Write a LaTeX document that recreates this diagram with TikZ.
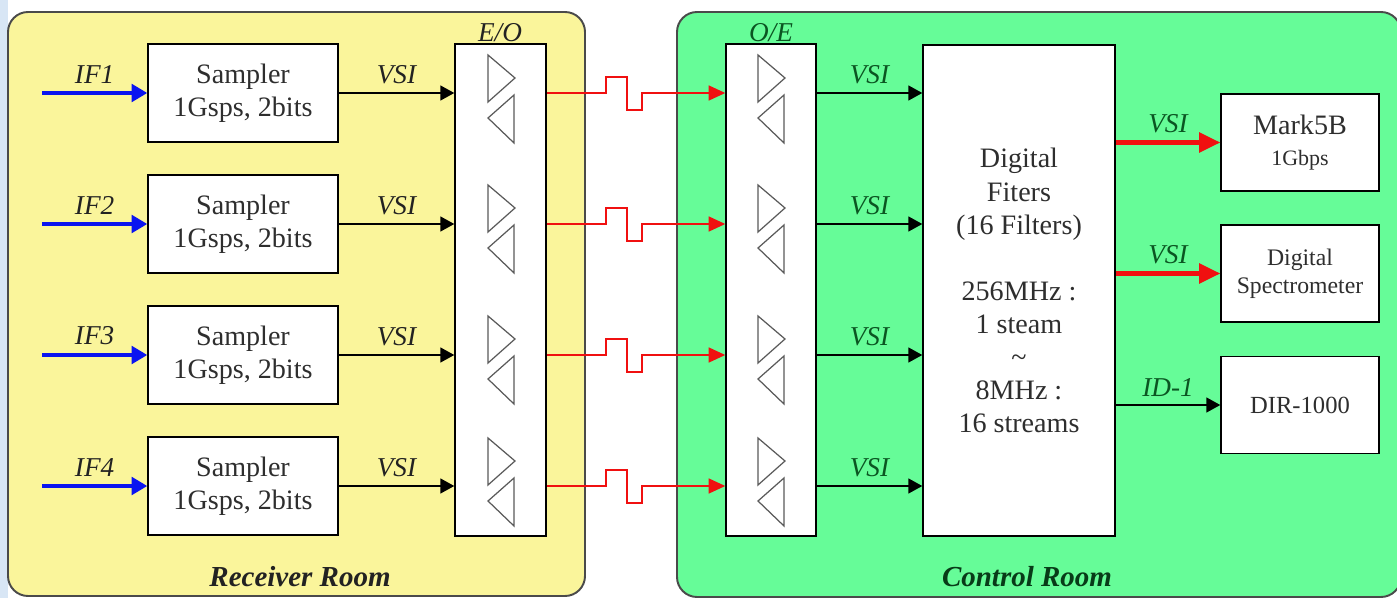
\documentclass[tikz,border=0pt]{standalone}
\usepackage{fontspec}
\setmainfont{LiberationSerif}[Extension=.ttf,UprightFont=*-Regular,BoldFont=*-Bold,ItalicFont=*-Italic,BoldItalicFont=*-BoldItalic]
\usetikzlibrary{arrows.meta}
\definecolor{rxyellow}{HTML}{FAF59B}
\definecolor{ctrlgreen}{HTML}{66FC98}
\definecolor{roomedge}{HTML}{4A4A4A}
\definecolor{lblgreen}{HTML}{0B5522}
\definecolor{lbldark}{HTML}{222222}
\definecolor{txtgray}{HTML}{2E2E2E}
\definecolor{trigray}{HTML}{5A5A5A}
\definecolor{sideblue}{HTML}{D8E6F5}
\definecolor{ifblue}{HTML}{0A14F0}
\definecolor{linkred}{HTML}{F01010}

\begin{document}
\begin{tikzpicture}[x=0.02cm,y=-0.02cm,
  room/.style={draw=roomedge,line width=1.1pt,rounded corners=0.4cm},
  unit/.style={draw,fill=white,line width=0.8pt,align=center,text=txtgray,inner sep=0pt},
  tri/.style={draw=trigray,line width=0.7pt},
  lbl/.style={font=\fontsize{15.5}{18}\selectfont\itshape,inner sep=2pt},
  roomlbl/.style={font=\fontsize{16.5}{20}\selectfont\bfseries\itshape},
  ifarrow/.style={ifblue,line width=2.3pt,-{Triangle[length=9pt,width=10pt]}},
  vsiarrow/.style={line width=1.1pt,-{Triangle[length=8pt,width=8.5pt]}},
  fibre/.style={linkred,line width=1pt,-{Triangle[length=9.5pt,width=8.5pt]}},
  outarrow/.style={linkred,line width=2.3pt,-{Triangle[length=12pt,width=11pt]}}]
  \useasboundingbox (0,0) rectangle (1397,598);
  \clip (0,0) rectangle (1397,598);
  \fill[white] (0,0) rectangle (1397,598);
  \fill[sideblue] (0,0) rectangle (8,598);
  \draw[room,fill=rxyellow] (8,12) rectangle (585,596);
  \draw[room,fill=ctrlgreen] (677,12) rectangle (1401,597);
  \node[roomlbl,text=lbldark] (rxroom) at (300,577) {Receiver Room};
  \node[roomlbl,text=lblgreen!70!black] (ctrlroom) at (1027,577) {Control Room};
  \foreach \i/\yy in {1/93,2/224,3/355,4/486}{
    \node[unit,minimum width=3.8cm,minimum height=1.96cm,font=\fontsize{16}{18.5}\selectfont] (smp\i) at (243,\yy) {Sampler\\1Gsps, 2bits};
  }
  \node[unit,minimum width=1.82cm,minimum height=9.84cm] (eo) at (500.5,290) {};
  \node[unit,minimum width=1.80cm,minimum height=9.84cm] (oe) at (771,290) {};
  \node[lbl,text=lbldark] (eolbl) at (500,33) {E/O};
  \node[lbl,text=lblgreen] (oelbl) at (771,33) {O/E};
  \foreach \ty in {55,185,316,438}{
    \foreach \xx in {488,758}{
      \draw[tri] (\xx,\ty) -- (\xx,\ty+47) -- (\xx+27,\ty+23) -- cycle;
      \draw[tri] (\xx+26,\ty+40) -- (\xx+26,\ty+88) -- (\xx,\ty+63) -- cycle;
    }
  }
  \node[unit,minimum width=3.84cm,minimum height=9.82cm,font=\fontsize{16}{18.8}\selectfont] (dfb) at (1019,290.5)
    {Digital\\Fiters\\(16 Filters)\\[18.8pt]256MHz :\\1 steam\\\textasciitilde\\8MHz :\\16 streams};
  \foreach \i/\yy in {1/93,2/224,3/355,4/486}{
    \coordinate (ifin\i) at (42,\yy);
    \draw[ifarrow] (ifin\i) -- (smp\i.west) node[lbl,midway,above=2.5pt,text=lbldark] {IF\i};
    \draw[vsiarrow] (smp\i.east) -- (smp\i.east -| eo.west) node[lbl,midway,above=2.5pt,text=lbldark] {VSI};
    \draw[fibre] (smp\i.east -| eo.east) -- ++(59,0) -- ++(0,-16) -- ++(21,0) -- ++(0,33) -- ++(15,0) -- ++(0,-17) -- (smp\i.east -| oe.west);
    \draw[vsiarrow] (smp\i.east -| oe.east) -- (smp\i.east -| dfb.west) node[lbl,midway,above=2.5pt,text=lblgreen] {VSI};
  }
  \node[unit,minimum width=3.16cm,minimum height=1.94cm,font=\fontsize{16}{17.6}\selectfont] (m5b) at (1300,142.5)
    {Mark5B\\{\fontsize{12.5}{15}\selectfont 1Gbps}};
  \node[unit,minimum width=3.16cm,minimum height=1.94cm,font=\fontsize{13.5}{16}\selectfont] (dspec) at (1300,273.5)
    {Digital\\Spectrometer};
  \node[unit,minimum width=3.16cm,minimum height=1.94cm,font=\fontsize{14}{16}\selectfont] (dir) at (1300,405) {DIR-1000};
  \draw[outarrow] (m5b.west -| dfb.east) -- (m5b.west) node[lbl,midway,above=2.5pt,text=lblgreen] {VSI};
  \draw[outarrow] (dspec.west -| dfb.east) -- (dspec.west) node[lbl,midway,above=2.5pt,text=lblgreen] {VSI};
  \draw[vsiarrow] (dir.west -| dfb.east) -- (dir.west) node[lbl,midway,above=2.5pt,text=lblgreen] {ID-1};
\end{tikzpicture}
\end{document}
